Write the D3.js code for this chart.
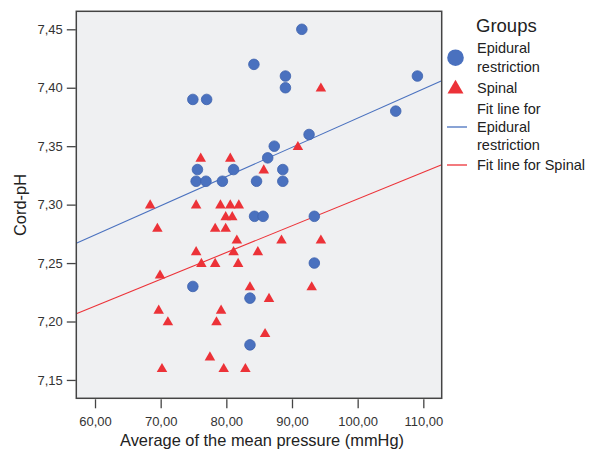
<!DOCTYPE html>
<html lang="en">
<head>
    <meta charset="UTF-8">
    <title>Cord-pH vs mean pressure</title>
    <script src="https://d3js.org/d3.v7.min.js"></script>
    <style>
        * { margin: 0; padding: 0; box-sizing: border-box; }
        html, body { width: 602px; height: 450px; overflow: clip; background: #fff; }
        svg { display: block; font-family: "Liberation Sans", Arial, sans-serif; }
    </style>
</head>
<body>
<svg id="chart" width="602" height="450"></svg>
<script>
    // Epidural restriction: [pressure, pH]
    const epidural = [
        [74.9, 7.39], [77.0, 7.39], [84.2, 7.42], [91.5, 7.45], [89.0, 7.41], [89.0, 7.40],
        [109.1, 7.41], [105.8, 7.38], [92.6, 7.36], [87.3, 7.35], [86.3, 7.34], [75.6, 7.33],
        [81.1, 7.33], [88.6, 7.33], [75.4, 7.32], [76.9, 7.32], [79.4, 7.32], [84.6, 7.32],
        [88.6, 7.32], [84.3, 7.29], [85.6, 7.29], [93.4, 7.29], [93.4, 7.25], [74.9, 7.23],
        [83.6, 7.22], [83.6, 7.18]
    ]
    // Spinal: [pressure, pH]
    const spinal = [
        [76.1, 7.34], [80.6, 7.34], [68.4, 7.30], [75.4, 7.30], [79.1, 7.30], [80.6, 7.30],
        [81.9, 7.30], [94.4, 7.40], [90.9, 7.35], [85.7, 7.33], [79.9, 7.29], [80.9, 7.29],
        [69.5, 7.28], [78.3, 7.28], [79.9, 7.28], [81.6, 7.27], [75.4, 7.26], [81.1, 7.26],
        [84.8, 7.26], [76.2, 7.25], [78.3, 7.25], [81.8, 7.25], [69.9, 7.24], [83.6, 7.23],
        [69.7, 7.21], [79.2, 7.21], [71.1, 7.20], [78.5, 7.20], [77.5, 7.17], [70.2, 7.16],
        [79.6, 7.16], [82.9, 7.16], [88.4, 7.27], [94.4, 7.27], [93.0, 7.23], [86.5, 7.22],
        [85.9, 7.19]
    ]
    // fit lines: [intercept, slope]
    const fitEpidural = [7.124, 0.0025]
    const fitSpinal = [7.0758, 0.00229]

    const xTicks = [60, 70, 80, 90, 100, 110]
    const yTicks = [7.15, 7.20, 7.25, 7.30, 7.35, 7.40, 7.45]
    const xDomain = [57.15, 112.8]
    const yDomain = [7.1343, 7.4654]

    const blue = "#4a71bf"
    const red = "#ec3238"
    const fmt = d => d.toFixed(2).replace(".", ",")

    const plot = { left: 76.3, top: 11.3, right: 441.7, bottom: 398.3 }
    const x = d3.scaleLinear().domain(xDomain).range([plot.left, plot.right])
    const y = d3.scaleLinear().domain(yDomain).range([plot.bottom, plot.top])

    const $svg = d3.select("#chart")

    $svg.append("rect")
        .attr("x", plot.left).attr("y", plot.top)
        .attr("width", plot.right - plot.left).attr("height", plot.bottom - plot.top)
        .attr("fill", "#eff0f2")

    // axes
    const $xAxis = $svg.append("g")
        .attr("transform", `translate(0 ${plot.bottom + 1})`)
        .call(d3.axisBottom(x).tickValues(xTicks).tickFormat(fmt).tickSize(9).tickSizeOuter(0))
    const $yAxis = $svg.append("g")
        .attr("transform", `translate(${plot.left - 0.5} 0)`)
        .call(d3.axisLeft(y).tickValues(yTicks).tickFormat(fmt).tickSize(9).tickSizeOuter(0))
    for (const $a of [ $xAxis, $yAxis ]) {
        $a.select(".domain").remove()
        $a.selectAll("line").attr("stroke", "#444").attr("stroke-width", 1.3)
        $a.selectAll("text").attr("fill", "#333").style("font-size", "13px")
            .style("font-family", "\"Liberation Sans\", Arial, sans-serif")
    }
    $xAxis.selectAll("text").attr("dy", "1.1em")
    $yAxis.selectAll("text").attr("dx", "-1px")

    // fit lines
    const fitLine = ([a, b], color) => $svg.append("line")
        .attr("x1", x(xDomain[0])).attr("y1", y(a + b * xDomain[0]))
        .attr("x2", x(xDomain[1])).attr("y2", y(a + b * xDomain[1]))
        .attr("stroke", color).attr("stroke-width", 1.1)
    fitLine(fitEpidural, blue)
    fitLine(fitSpinal, red)

    // points
    const tri = d3.symbol().type(d3.symbolTriangle).size(48)
    $svg.append("g").selectAll("path")
        .data(spinal)
        .join("path")
        .attr("d", tri)
        .attr("transform", d => `translate(${x(d[0])} ${y(d[1]) + 0.8})`)
        .attr("fill", red)
    $svg.append("g").selectAll("circle")
        .data(epidural)
        .join("circle")
        .attr("cx", d => x(d[0]))
        .attr("cy", d => y(d[1]))
        .attr("r", 5.3)
        .attr("fill", blue)
        .attr("stroke", "#3d62ad")
        .attr("stroke-width", 0.8)

    // frame
    $svg.append("rect")
        .attr("x", plot.left).attr("y", plot.top)
        .attr("width", plot.right - plot.left).attr("height", plot.bottom - plot.top)
        .attr("fill", "none").attr("stroke", "#444").attr("stroke-width", 1.5)

    // titles
    $svg.append("text")
        .attr("x", 262).attr("y", 446)
        .attr("text-anchor", "middle").attr("fill", "#222")
        .style("font-size", "16.4px")
        .text("Average of the mean pressure (mmHg)")
    $svg.append("text")
        .attr("transform", "translate(26 205) rotate(-90)")
        .attr("text-anchor", "middle").attr("fill", "#222")
        .style("font-size", "16.4px")
        .text("Cord-pH")

    // legend
    const $lg = $svg.append("g").attr("fill", "#222").style("font-size", "14.5px")
    $lg.append("text").attr("x", 476).attr("y", 32).style("font-size", "18.5px").text("Groups")
    $lg.append("circle").attr("cx", 455.5).attr("cy", 57.7).attr("r", 8.3).attr("fill", blue)
    $lg.append("text").attr("x", 477).attr("y", 53).text("Epidural")
    $lg.append("text").attr("x", 477).attr("y", 71.5).text("restriction")
    $lg.append("path").attr("d", d3.symbol().type(d3.symbolTriangle).size(110))
        .attr("transform", "translate(455.5 89)").attr("fill", red)
    $lg.append("text").attr("x", 477).attr("y", 93).text("Spinal")
    $lg.append("text").attr("x", 477).attr("y", 113.5).text("Fit line for")
    $lg.append("line").attr("x1", 447).attr("x2", 467).attr("y1", 127).attr("y2", 127)
        .attr("stroke", blue).attr("stroke-width", 1.3)
    $lg.append("text").attr("x", 477).attr("y", 131.5).text("Epidural")
    $lg.append("text").attr("x", 477).attr("y", 149.5).text("restriction")
    $lg.append("line").attr("x1", 447).attr("x2", 467).attr("y1", 165).attr("y2", 165)
        .attr("stroke", red).attr("stroke-width", 1.3)
    $lg.append("text").attr("x", 477).attr("y", 170).text("Fit line for Spinal")
</script>
</body>
</html>
